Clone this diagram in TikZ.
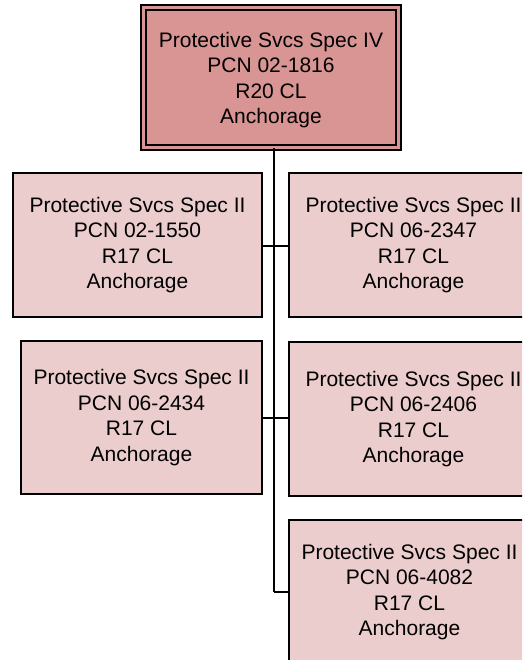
\documentclass[tikz,border=0pt]{standalone}
\usepackage{fontspec}
\setmainfont{Liberation Sans}
\definecolor{topfill}{RGB}{217,149,148}
\definecolor{subfill}{RGB}{236,205,205}
\begin{document}
\begin{tikzpicture}[x=1pt,y=1pt,
  box/.style={draw=black, line width=1.3pt, fill=subfill, align=center,
    font=\fontsize{21}{25.5}\selectfont, inner sep=0pt, minimum width=249pt, minimum height=144pt},
  topbox/.style={draw=black, line width=1.2pt, double=topfill, double distance=3.8pt, fill=topfill,
    align=center, font=\fontsize{21}{25.5}\selectfont, inner sep=0pt, minimum width=255pt, minimum height=140pt},
  trunk/.style={line width=2pt},
  branch/.style={line width=1.2pt}]
\useasboundingbox (0,0) rectangle (522,-660);
\clip (0,0) rectangle (522,-660);
\node[topbox] (top) at (271,-77.5) {\rule{0pt}{20pt}Protective Svcs Spec IV\\PCN 02-1816\\R20 CL\\Anchorage};
\node[box] (c1) at (137.5,-245) {Protective Svcs Spec II\\PCN 02-1550\\R17 CL\\Anchorage};
\node[box] (c2) at (413.5,-245) {Protective Svcs Spec II\\PCN 06-2347\\R17 CL\\Anchorage};
\node[box, minimum width=241pt, minimum height=153pt] (c3) at (141.5,-417.5) {Protective Svcs Spec II\\PCN 06-2434\\R17 CL\\Anchorage};
\node[box, minimum height=154pt] (c4) at (413.5,-419) {Protective Svcs Spec II\\PCN 06-2406\\R17 CL\\Anchorage};
\node[box, minimum width=241pt, minimum height=144pt] (c5) at (409.5,-592) {Protective Svcs Spec II\\PCN 06-4082\\R17 CL\\Anchorage};
\coordinate (j1) at (273.5,-246);
\coordinate (j2) at (273.5,-418);
\coordinate (j3) at (273.5,-592);
\draw[trunk] (top.south -| j1) -- (j3);
\draw[branch] (c1.east |- j1) -- (c2.west |- j1);
\draw[branch] (c3.east |- j2) -- (c4.west |- j2);
\draw[branch] (j3) -- (c5.west |- j3);
\end{tikzpicture}
\end{document}
